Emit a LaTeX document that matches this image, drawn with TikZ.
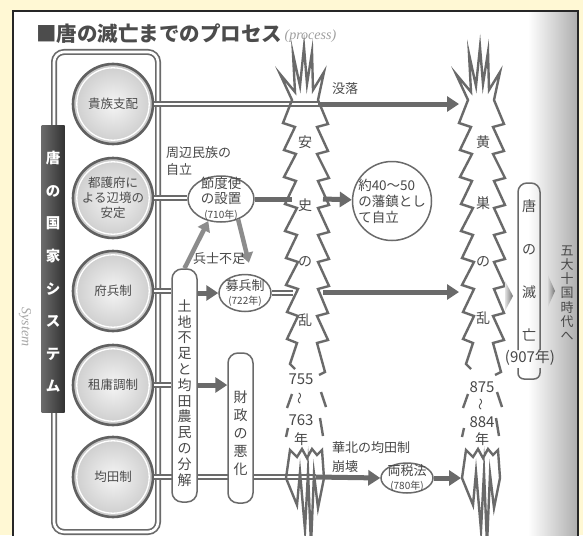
\documentclass[tikz,border=0pt]{standalone}
\usepackage{fontspec}
\setmainfont{Noto Sans CJK JP}
\newfontfamily\handf{Liberation Serif}
\usetikzlibrary{arrows.meta,shapes.geometric}
\definecolor{bgyel}{HTML}{FFF8D4}
\definecolor{lg}{HTML}{6A6A6A}
\definecolor{tx}{HTML}{484848}
\pgfdeclareradialshading{ballshade}{\pgfpoint{0bp}{0bp}}{color(0bp)=(black!4); color(22bp)=(black!18); color(42bp)=(black!45); color(50bp)=(black!62)}
\newcommand\fsz[2]{\fontsize{#1}{#2}\selectfont}
\begin{document}
\begin{tikzpicture}[x=1pt,y=-1pt,
  dbl/.style={draw=lg, line width=1.7pt, double=white, double distance=2.6pt},
  thk/.style={draw=lg, line width=5pt},
  arr/.style={draw=lg, line width=5pt, -{Triangle[length=12pt,width=15pt]}},
  larr/.style={draw=black!45, line width=4.5pt, -{Triangle[length=10pt,width=13pt]}},
  jag/.style={draw=lg, line width=2.4pt, line join=miter, miter limit=25},
  vbox/.style={draw=lg, line width=1.5pt, fill=white, rounded corners=10pt, inner sep=0pt, minimum width=25pt},
  ell/.style={ellipse, draw=lg, line width=1.5pt, fill=white, inner sep=0pt, align=center, text=tx},
  lbl/.style={text=tx, inner sep=0pt, align=left},
  vtxt/.style={text=tx, inner sep=0pt, align=center},
  ball/.style={circle, minimum size=80pt, inner sep=0pt, draw=black!62, line width=2.6pt, shade, shading=ballshade, text=black!70, align=center, font=\fsz{12.5}{15}}
]
\useasboundingbox (0,0) rectangle (583,535);
\clip (0,0) rectangle (583,535);
\fill[bgyel] (0,0) rectangle (583,535);
\fill[white] (13,11) rectangle (578,545);
\shade[left color=white, right color=black!32] (528,11) rectangle (578,545);
\draw[black!85, line width=2pt] (13,545) -- (13,11) -- (578,11) -- (578,545);

% title
\node[anchor=west, inner sep=0pt, text=black!70, font=\fsz{20.5}{21}\bfseries] (title) at (36,34) {■唐の滅亡までのプロセス};
\node[anchor=west, inner sep=2pt, text=black!38, font=\handf\itshape\fsz{14}{14}] (proc) at ([yshift=-2pt]title.east) {(process)};

% system frame
\draw[dbl, rounded corners=10pt] (54,52) rectangle (158,532);

% circles
\node[ball] (c1) at (113,104) {貴族支配};
\node[ball] (c2) at (113,198) {都護府に\\よる辺境の\\安定};
\node[ball] (c3) at (113,291) {府兵制};
\node[ball] (c4) at (113,385) {租庸調制};
\node[ball] (c5) at (113,477) {均田制};
\foreach \n in {c1,c2,c3,c4,c5} \draw[white, line width=1.3pt] (\n.center) circle (36.2);

% dark bar
\node[minimum width=23pt, minimum height=287pt, inner sep=0pt, left color=black!58, right color=black!80, anchor=north] (bar) at (53,125) {};
\node[text=white, font=\fsz{14.5}{32.6}\bfseries, align=center, inner sep=0pt] (bart) at (53,272) {唐\\の\\国\\家\\シ\\ス\\テ\\ム};
\node[rotate=-90, text=black!35, font=\handf\itshape\fsz{14}{14}, inner sep=0pt] (sys) at (25,327) {System};

% line from 均田制 (behind boxes)
\coordinate (asB) at (316,477);
\draw[dbl] (c5) -- (asB);

% boxes and ellipses
\node[vbox, minimum height=233pt] (box1) at (184.5,385.5) {};
\node[vbox, minimum height=150pt] (box2) at (240.5,428) {};
\node[ell, minimum width=66pt, minimum height=46pt] (e1) at (221,199) {};
\node[ell, minimum width=52pt, minimum height=37pt] (e2) at (245,293) {};
\node[ell, minimum width=52pt, minimum height=30pt] (e3) at (407,478) {};
\node[circle, draw=lg, line width=1.5pt, fill=white, minimum size=79pt, inner sep=0pt] (r1) at (392,201) {};

% connectors
\coordinate (asR1) at (318,104);
\coordinate (koL1) at (459,104);
\draw[dbl] (c1) -- (asR1);
\draw[arr] (asR1) -- (koL1);
\draw[dbl] (c2) -- (c2 -| e1.west);
\draw[thk] (e1.east) -- ++(37,0);
\coordinate (asR2) at (323,199);
\draw[arr] (asR2) -- (r1);
\draw[dbl] (c3) -- (c3 -| box1.west);
\draw[arr] (box1.east |- e2) -- (e2.west);
\draw[dbl] (e2.east) -- ++(21,0);
\coordinate (asR3) at (323,292);
\coordinate (koL3) at (459,292);
\draw[arr] (asR3) -- (koL3);
\draw[dbl] (c4) -- (c4 -| box1.west);
\draw[arr] (box1.east |- c4) -- (box2.west |- c4);
\draw[arr] (asB) -- (e3.west);
\coordinate (koB) at (461,478);
\draw[arr] (e3.east) -- (koB);
\draw[larr] (box1.north) -- (e1.240);
\draw[larr, shorten >=12pt] (e1.310) -- (e2.70);

% spikes
\foreach \dx in {0,176}{
\begin{scope}[shift={(\dx,0)}]
\draw[jag] (295,369) -- (290,364) -- (297,343) -- (287,339) -- (298,316) -- (287,312) -- (298,289) -- (286,285) -- (298,262) -- (286,258) -- (297,235) -- (285,231) -- (297,208) -- (285,204) -- (296,181) -- (284,177) -- (296,154) -- (284,150) -- (295,127) -- (283,123) -- (292,100) -- (280,74) -- (295,92) -- (293,54) -- (300,86) -- (304,47) -- (307,84) -- (312,52) -- (313,90) -- (324,72) -- (318,100) -- (328,124) -- (317,127) -- (328,151) -- (317,154) -- (329,178) -- (318,181) -- (329,205) -- (318,208) -- (329,232) -- (318,235) -- (329,259) -- (318,262) -- (329,286) -- (318,289) -- (328,313) -- (317,316) -- (328,340) -- (317,343) -- (325,372) -- (319,375);
\draw[jag] (292,394) -- (287,408);
\draw[jag] (288,428) -- (286,437);
\draw[jag] (321,392) -- (326,407);
\draw[jag] (320,418) -- (323,436);
\draw[jag] (290,450) -- (286,478) -- (297,505) -- (300,472) -- (305,530) -- (308,472) -- (311,545) -- (314,474) -- (318,508) -- (324,478) -- (322,450) -- (317,455) -- (312,449) -- (307,458) -- (302,449) -- (297,457) -- cycle;
\end{scope}}

% texts
\node[lbl, font=\fsz{13}{17}, anchor=north west] (lab1) at (166,146) {周辺民族の\\自立};
\node[lbl, font=\fsz{13}{13}] (lab2) at (345,89) {没落};
\node[lbl, font=\fsz{13}{13}] (lab3) at (219,259) {兵士不足};
\node[lbl, font=\fsz{13}{19}, anchor=west] (lab4) at (332,457) {華北の均田制\\崩壊};
\node[vtxt, font=\fsz{13.5}{15}] (e1t) at (221,199) {節度使\\の設置\\{\fsz{10}{12}(710年)}};
\node[vtxt, font=\fsz{13}{14}] (e2t) at (245,293) {募兵制\\{\fsz{10}{12}(722年)}};
\node[vtxt, font=\fsz{13}{14}] (e3t) at (407,478) {両税法\\{\fsz{10}{12}(780年)}};
\node[lbl, font=\fsz{13.5}{16}] (r1t) at (392,201) {約40〜50\\の藩鎮とし\\て自立};
\node[vtxt, font=\fsz{14}{15.8}] (box1t) at (184.5,393) {土\\地\\不\\足\\と\\均\\田\\農\\民\\の\\分\\解};
\node[vtxt, font=\fsz{14}{18}] (box2t) at (240.5,433) {財\\政\\の\\悪\\化};

\foreach \ch/\yy [count=\i] in {安/142,史/205,の/262,乱/320} \node[vtxt, font=\fsz{14}{14}] (as\i) at (305,\yy) {\ch};
\foreach \ch/\yy [count=\i] in {黄/142,巣/203,の/262,乱/318} \node[vtxt, font=\fsz{14}{14}] (ko\i) at (483,\yy) {\ch};
\node[vtxt, font=\fsz{15}{15}] (d1) at (301,379) {755};
\node[vtxt, font=\fsz{12}{12}, rotate=90] (d2) at (301,398) {〜};
\node[vtxt, font=\fsz{15}{15}] (d3) at (301,420) {763};
\node[vtxt, font=\fsz{14}{14}] (d4) at (301,439) {年};
\node[vtxt, font=\fsz{15}{15}] (f1) at (482,387) {875};
\node[vtxt, font=\fsz{12}{12}, rotate=90] (f2) at (482,404) {〜};
\node[vtxt, font=\fsz{15}{15}] (f3) at (482,422) {884};
\node[vtxt, font=\fsz{14}{14}] (f4) at (482,439) {年};

% 唐の滅亡 box
\draw[lg, line width=1.5pt, rounded corners=9pt] (518,350) -- (518,183) -- (540,183) -- (540,350);
\draw[lg, line width=1.5pt, rounded corners=6pt] (518,368) -- (518,379) -- (540,379) -- (540,368);
\node[vtxt, font=\fsz{14}{43}] (tb) at (529,270.5) {唐\\の\\滅\\亡};
\node[vtxt, font=\fsz{15}{15}] (yr) at (530,358) {(907年)};
\shade[left color=black!12, right color=black!55] (505,281) -- (513,296) -- (505,311) -- cycle;
\shade[left color=black!12, right color=black!55] (547,273) -- (555,291) -- (547,309) -- cycle;
\node[vtxt, font=\fsz{13}{14.2}] (five) at (567,293) {五\\大\\十\\国\\時\\代\\へ};
\end{tikzpicture}
\end{document}
